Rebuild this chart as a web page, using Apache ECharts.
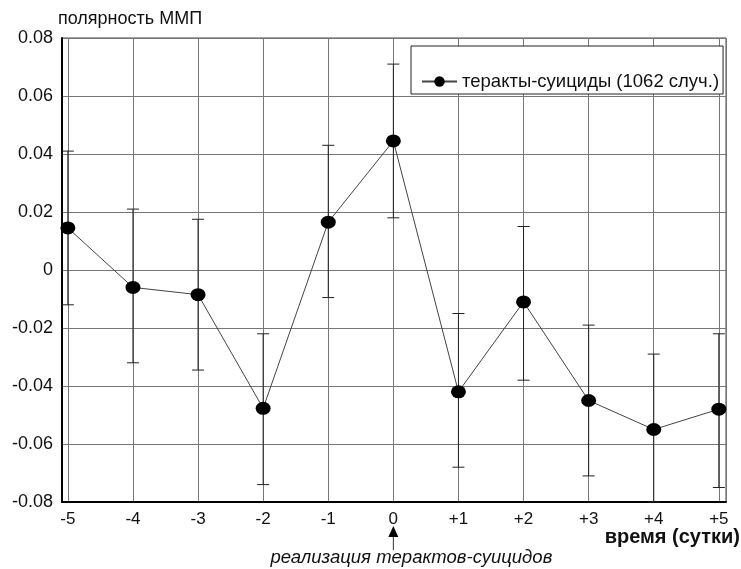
<!DOCTYPE html>
<html lang="ru">
<head>
    <meta charset="UTF-8">
    <title>полярность ММП</title>
    <script src="https://cdn.jsdelivr.net/npm/echarts@6/dist/echarts.min.js"></script>
    <style>
        html, body { margin: 0; padding: 0; background: #fff; }
        #chart { width: 741px; height: 569px; }
    </style>
</head>
<body>
    <div id="chart"></div>
    <script>
        // сутки относительно теракта
        let days = [-5, -4, -3, -2, -1, 0, 1, 2, 3, 4, 5]
        let dayLabels = ['-5', '-4', '-3', '-2', '-1', '0', '+1', '+2', '+3', '+4', '+5']
        // средняя полярность ММП
        let means = [0.0145, -0.006, -0.0085, -0.0477, 0.0165, 0.0445, -0.042, -0.011, -0.045, -0.055, -0.048]
        // границы погрешностей
        let lows = [-0.012, -0.032, -0.0345, -0.074, -0.0095, 0.018, -0.068, -0.038, -0.071, -0.08, -0.075]
        let highs = [0.041, 0.021, 0.0175, -0.022, 0.043, 0.071, -0.015, 0.015, -0.019, -0.029, -0.022]
        let seriesName = 'теракты-суициды (1062 случ.)'

        let font = '"Liberation Sans", Arial, sans-serif'

        let chart = echarts.init(document.getElementById('chart'))

        let lineData = days.map((d, i) => [d, means[i]])
        let errData = days.map((d, i) => [d, lows[i], highs[i]])

        function renderErr(params, api) {
            let x = api.value(0)
            let lo = api.coord([x, api.value(1)])
            let hi = api.coord([x, api.value(2)])
            let w = 6
            let st = { stroke: '#222', lineWidth: 1 }
            return {
                type: 'group',
                children: [
                    { type: 'line', shape: { x1: lo[0], y1: lo[1], x2: hi[0], y2: hi[1] }, style: st },
                    { type: 'line', shape: { x1: hi[0] - w, y1: hi[1], x2: hi[0] + w, y2: hi[1] }, style: st },
                    { type: 'line', shape: { x1: lo[0] - w, y1: lo[1], x2: lo[0] + w, y2: lo[1] }, style: st }
                ]
            }
        }

        let option = {
            animation: false,
            backgroundColor: '#fff',
            textStyle: { fontFamily: font },
            grid: {
                left: 62, right: 15, top: 38, bottom: 67,
                show: true, borderColor: '#444', borderWidth: 1,
                containLabel: false
            },
            legend: {
                left: 411, top: 46,
                padding: [26, 4, 3, 10],
                backgroundColor: '#fff',
                borderColor: '#222', borderWidth: 1, borderRadius: 0,
                itemWidth: 35, itemHeight: 13,
                data: [seriesName],
                textStyle: { fontSize: 18.5, color: '#111', fontFamily: font }
            },
            xAxis: {
                type: 'value',
                min: -5.09, max: 5.11,
                splitNumber: 10,
                axisLine: { onZero: false, lineStyle: { color: '#000', width: 2 } },
                axisTick: { show: false },
                splitLine: { lineStyle: { color: '#777', width: 1 } },
                axisLabel: {
                    margin: 9, fontSize: 17, color: '#111', fontFamily: font,
                    formatter: v => {
                        let i = days.indexOf(Math.round(v * 1000) / 1000)
                        return i < 0 ? '' : dayLabels[i]
                    }
                }
            },
            yAxis: {
                type: 'value',
                min: -0.08, max: 0.08, interval: 0.02,
                axisLine: { show: true, onZero: false, lineStyle: { color: '#000', width: 2 } },
                axisTick: { show: false },
                splitLine: { lineStyle: { color: '#777', width: 1 } },
                axisLabel: {
                    margin: 9, fontSize: 18, color: '#111', fontFamily: font,
                    formatter: v => Math.abs(v) < 1e-9 ? '0' : v.toFixed(2)
                }
            },
            series: [
                {
                    type: 'custom',
                    name: 'err',
                    renderItem: renderErr,
                    data: errData,
                    encode: { x: 0, y: [1, 2] },
                    z: 2
                },
                {
                    type: 'line',
                    name: seriesName,
                    data: lineData,
                    symbol: 'circle',
                    symbolSize: [15, 13],
                    itemStyle: { color: '#000' },
                    lineStyle: { color: '#444', width: 1 },
                    z: 3
                }
            ]
        }

        chart.setOption(option)

        // подписи и стрелка к моменту теракта
        let p0 = chart.convertToPixel({ xAxisIndex: 0, yAxisIndex: 0 }, [0, -0.08])
        chart.setOption({
            graphic: [
                {
                    type: 'text', left: 58, top: 10,
                    style: { text: 'полярность ММП', font: '18px ' + font, fill: '#111' }
                },
                {
                    type: 'text', right: 1, top: p0[1] + 25,
                    style: { text: 'время (сутки)', font: 'bold 20px ' + font, fill: '#111' }
                },
                {
                    type: 'text', x: p0[0] + 18, y: p0[1] + 56,
                    style: { text: 'реализация терактов-суицидов', font: 'italic 18.5px ' + font, fill: '#111', align: 'center', verticalAlign: 'middle' }
                },
                {
                    type: 'polygon',
                    shape: { points: [[p0[0], p0[1] + 24], [p0[0] - 5, p0[1] + 35], [p0[0] + 5, p0[1] + 35]] },
                    style: { fill: '#000' }
                },
                {
                    type: 'line',
                    shape: { x1: p0[0], y1: p0[1] + 35, x2: p0[0], y2: p0[1] + 48 },
                    style: { stroke: '#333', lineWidth: 1 }
                }
            ]
        })
    </script>
</body>
</html>
